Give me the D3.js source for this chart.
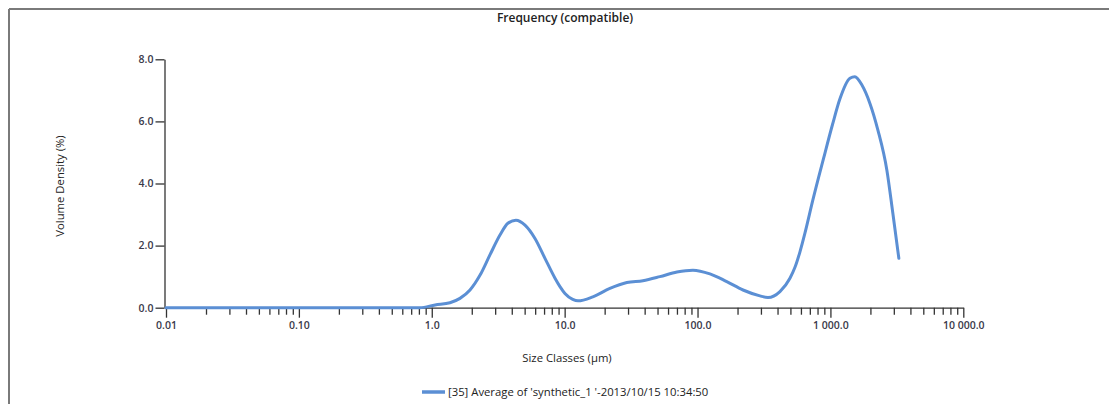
<!DOCTYPE html>
<html><head><meta charset="utf-8">
<script src="https://cdn.jsdelivr.net/npm/d3@7"></script>
<style>
body{margin:0;background:#fff;}
text{font-family:"Open Sans","Noto Sans",sans-serif;}
</style></head>
<body><svg id="c" width="1109" height="404"></svg>
<script>
const sizes = [0.01, 0.1, 0.5, 0.815, 1.06, 1.37, 1.63, 1.94, 2.31, 2.74, 3.26, 3.74, 4.30, 5.03, 5.98, 7.11, 8.46, 9.22, 10.05, 11.5, 12.6, 16.3, 21.9, 29.4, 38.8, 52.1, 70.0, 92.3, 124, 166, 220, 295, 339, 417, 496, 541, 590, 643, 738, 887, 1037, 1178, 1402, 1528, 1726, 1983, 2277, 2660, 2950, 3273];
const density = [0, 0, 0, 0, 0.09, 0.16, 0.30, 0.57, 1.05, 1.70, 2.34, 2.72, 2.82, 2.66, 2.23, 1.59, 0.95, 0.68, 0.46, 0.27, 0.22, 0.35, 0.62, 0.81, 0.87, 1.0, 1.15, 1.21, 1.09, 0.84, 0.57, 0.38, 0.33, 0.52, 0.95, 1.3, 1.8, 2.40, 3.47, 4.8, 5.9, 6.72, 7.39, 7.44, 7.17, 6.58, 5.72, 4.43, 3.04, 1.59];
const xTickValues = [0.01, 0.1, 1, 10, 100, 1000, 10000];
const xTickLabels = ["0.01", "0.10", "1.0", "10.0", "100.0", "1 000.0", "10 000.0"];
const yTickValues = [0, 2, 4, 6, 8];
const yTickLabels = ["0.0", "2.0", "4.0", "6.0", "8.0"];
const titleText = "Frequency (compatible)";
const xLabel = "Size Classes (µm)";
const yLabel = "Volume Density (%)";
const legendLabel = "[35] Average of 'synthetic_1 '-2013/10/15 10:34:50";

const svg = d3.select("#c");
const lineColor = "#5b8fd4";
const axisColor = "#333";
const textColor = "#3a3a4a";

// frame (top & left)
svg.append("line").attr("x1",9).attr("x2",1109).attr("y1",9).attr("y2",9).attr("stroke","#7a7a7a").attr("stroke-width",2);
svg.append("line").attr("x1",9).attr("x2",9).attr("y1",9).attr("y2",404).attr("stroke","#7a7a7a").attr("stroke-width",2);

const x = d3.scaleLog().domain([0.01, 10000]).range([166, 963.3]);
const y = d3.scaleLinear().domain([0, 8]).range([307.7, 59.3]);

// minor ticks
const minor = [];
for (let e = -2; e < 4; e++) for (let m = 2; m <= 9; m++) minor.push(m * Math.pow(10, e));
const gx = svg.append("g").attr("transform", `translate(0,${y(0)})`);
gx.call(d3.axisBottom(x).tickValues(minor).tickSize(7).tickFormat(""));
gx.call(g => g.select(".domain").remove());
const gx2 = svg.append("g").attr("transform", `translate(0,${y(0)})`);
gx2.call(d3.axisBottom(x).tickValues(xTickValues).tickSize(10).tickSizeOuter(0).tickPadding(4)
  .tickFormat((d,i) => xTickLabels[i]));
[gx, gx2].forEach(g => {
  g.selectAll("line").attr("stroke", axisColor).attr("stroke-width", 1.3);
  g.selectAll(".domain").attr("stroke", axisColor).attr("stroke-width", 1.3);
  g.selectAll("text").attr("fill", textColor).attr("font-size", 10.5).attr("font-weight", 600);
});

const gy = svg.append("g").attr("transform", `translate(${x(0.01) - 1.5},0)`);
gy.call(d3.axisLeft(y).tickValues(yTickValues).tickSize(9).tickSizeOuter(0).tickPadding(2)
  .tickFormat((d,i) => yTickLabels[i]));
gy.selectAll("line").attr("stroke", axisColor).attr("stroke-width", 1.3);
gy.selectAll(".domain").attr("stroke", axisColor).attr("stroke-width", 1.3);
gy.selectAll("text").attr("fill", textColor).attr("font-size", 10.5).attr("font-weight", 600);

// curve
const pts = sizes.map((s,i) => [s, density[i]]);
svg.append("path").datum(pts)
  .attr("fill","none").attr("stroke",lineColor).attr("stroke-width",3).attr("stroke-linejoin","round").attr("stroke-linecap","round")
  .attr("d", d3.line().x(d => x(d[0])).y(d => y(d[1])).curve(d3.curveMonotoneX));

// titles
svg.append("text").attr("x", 565).attr("y", 22).attr("text-anchor","middle")
  .attr("font-size", 12).attr("font-weight", 600).attr("fill", "#222").text(titleText);
svg.append("text").attr("x", 567).attr("y", 362).attr("text-anchor","middle")
  .attr("font-size", 11.3).attr("fill", "#222").text(xLabel);
svg.append("text").attr("transform", "translate(64,186) rotate(-90)").attr("text-anchor","middle")
  .attr("font-size", 11.3).attr("fill", "#222").text(yLabel);

// legend
svg.append("line").attr("x1", 422).attr("x2", 445).attr("y1", 392).attr("y2", 392)
  .attr("stroke", lineColor).attr("stroke-width", 3.5);
svg.append("text").attr("x", 448).attr("y", 396).attr("font-size", 11.3).attr("fill", "#222").text(legendLabel);
</script></body></html>
